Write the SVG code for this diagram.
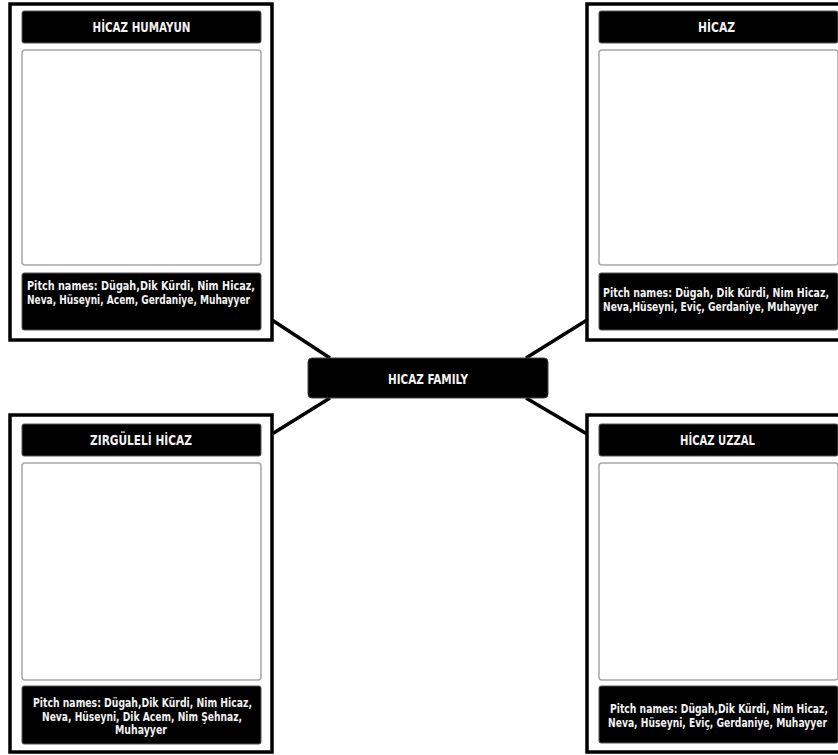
<svg xmlns="http://www.w3.org/2000/svg" width="838" height="755" viewBox="0 0 838 755">
<style>
.frame{fill:#fff;stroke:#000;stroke-width:3.5}
.bar{fill:#000;stroke:#555;stroke-width:1}
.box{fill:#fff;stroke:#a8a8a8;stroke-width:1.5}
.t{font-family:"Liberation Sans Narrow","DejaVu Sans Condensed","Liberation Sans",sans-serif;font-weight:bold;fill:#f2f2f2}
.title{font-size:14.5px;text-anchor:middle}
.p{font-size:12px}
.c{text-anchor:middle}
.link{stroke:#000;stroke-width:3.5;fill:none}
</style>
<rect width="838" height="755" fill="#fff"/>
<g id="connectors">
<line class="link" x1="272" y1="320" x2="330" y2="358"/>
<line class="link" x1="587" y1="320" x2="526" y2="358"/>
<line class="link" x1="330" y1="398" x2="272" y2="434"/>
<line class="link" x1="526" y1="398" x2="587" y2="434"/>
</g>
<g id="hicaz-humayun">
<rect class="frame" x="10" y="4" width="262" height="336"/>
<rect class="bar" x="22" y="11" width="239" height="32" rx="2"/>
<text class="t title" x="141.5" y="32" textLength="98" lengthAdjust="spacingAndGlyphs">HİCAZ HUMAYUN</text>
<rect class="box" x="22" y="50" width="239" height="215" rx="3"/>
<rect class="bar" x="22" y="273" width="239" height="57" rx="2"/>
<text class="t p" x="27" y="290" textLength="228" lengthAdjust="spacingAndGlyphs">Pitch names: Dügah,Dik Kürdi, Nim Hicaz,</text>
<text class="t p" x="27" y="304" textLength="223" lengthAdjust="spacingAndGlyphs">Neva, Hüseyni, Acem, Gerdaniye, Muhayyer</text>
</g>
<g id="hicaz">
<rect class="frame" x="587" y="4" width="262" height="336"/>
<rect class="bar" x="599" y="11" width="239" height="32" rx="2"/>
<text class="t title" x="716.5" y="32" textLength="37" lengthAdjust="spacingAndGlyphs">HİCAZ</text>
<rect class="box" x="599" y="50" width="239" height="215" rx="3"/>
<rect class="bar" x="599" y="273" width="239" height="57" rx="2"/>
<text class="t p" x="603" y="297" textLength="226" lengthAdjust="spacingAndGlyphs">Pitch names: Dügah, Dik Kürdi, Nim Hicaz,</text>
<text class="t p" x="603" y="311" textLength="215" lengthAdjust="spacingAndGlyphs">Neva,Hüseyni, Eviç, Gerdaniye, Muhayyer</text>
</g>
<g id="hicaz-family">
<rect x="308" y="358" width="240" height="40" rx="4" fill="#000" stroke="#444" stroke-width="1"/>
<text class="t title" x="428" y="384" textLength="80" lengthAdjust="spacingAndGlyphs">HICAZ FAMILY</text>
</g>
<g id="zirguleli-hicaz">
<rect class="frame" x="10" y="415" width="262" height="337"/>
<rect class="bar" x="22" y="424" width="239" height="32" rx="2"/>
<text class="t title" x="141" y="445" textLength="102" lengthAdjust="spacingAndGlyphs">ZIRGÜLELİ HİCAZ</text>
<rect class="box" x="22" y="463" width="239" height="217" rx="3"/>
<rect class="bar" x="22" y="686" width="239" height="58" rx="2"/>
<text class="t p c" x="142.5" y="707" textLength="219" lengthAdjust="spacingAndGlyphs">Pitch names: Dügah,Dik Kürdi, Nim Hicaz,</text>
<text class="t p c" x="142" y="720.5" textLength="200" lengthAdjust="spacingAndGlyphs">Neva, Hüseyni, Dik Acem, Nim Şehnaz,</text>
<text class="t p c" x="141" y="734" textLength="52" lengthAdjust="spacingAndGlyphs">Muhayyer</text>
</g>
<g id="hicaz-uzzal">
<rect class="frame" x="587" y="415" width="262" height="337"/>
<rect class="bar" x="599" y="424" width="239" height="32" rx="2"/>
<text class="t title" x="717.5" y="445" textLength="75" lengthAdjust="spacingAndGlyphs">HİCAZ UZZAL</text>
<rect class="box" x="599" y="463" width="239" height="217" rx="3"/>
<rect class="bar" x="599" y="686" width="239" height="57" rx="2"/>
<text class="t p c" x="719" y="713" textLength="218" lengthAdjust="spacingAndGlyphs">Pitch names: Dügah,Dik Kürdi, Nim Hicaz,</text>
<text class="t p c" x="717.5" y="727" textLength="219" lengthAdjust="spacingAndGlyphs">Neva, Hüseyni, Eviç, Gerdaniye, Muhayyer</text>
</g>
</svg>
